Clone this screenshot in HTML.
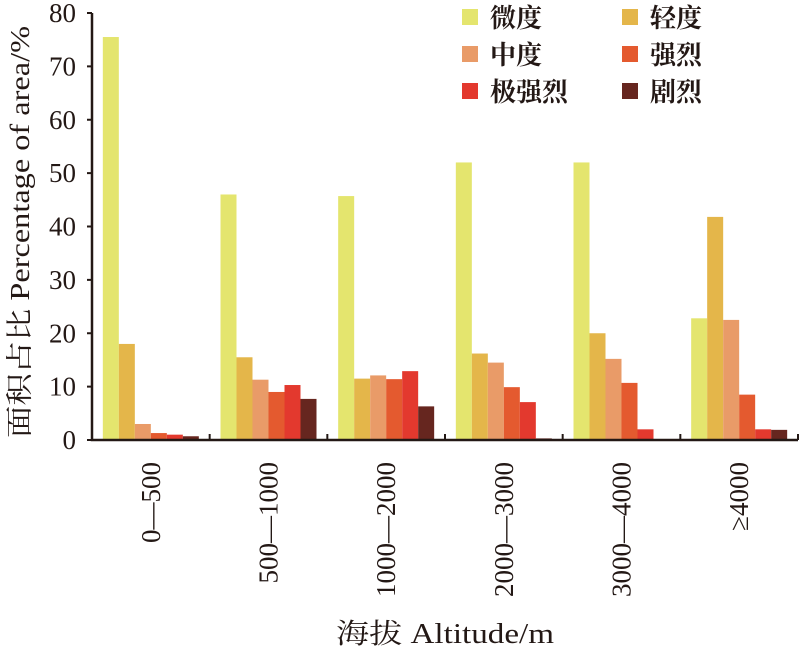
<!DOCTYPE html>
<html><head><meta charset="utf-8"><style>
body{margin:0;background:#fff;}
svg text{font-family:"Liberation Serif","Noto Serif CJK SC",serif;fill:#231815;}
</style></head><body>
<svg width="800" height="651" viewBox="0 0 800 651" xmlns="http://www.w3.org/2000/svg">
<g id="plot"></g>
<text transform="translate(29,232) rotate(-90)" text-anchor="middle" font-size="27" textLength="412" lengthAdjust="spacingAndGlyphs">面积占比 Percentage of area/%</text>
<text x="445" y="643" text-anchor="middle" font-size="28" textLength="218" lengthAdjust="spacingAndGlyphs">海拔 Altitude/m</text>
<script>
const categories=["0—500","500—1000","1000—2000","2000—3000","3000—4000","≥4000"];
const seriesNames=["微度","轻度","中度","强烈","极强烈","剧烈"];
const s1=[75.5,46,45.7,52,52,22.8];
const s2=[18,15.5,11.5,16.2,20,41.8];
const s3=[3,11.3,12.1,14.5,15.2,22.5];
const s4=[1.3,9,11.4,9.9,10.7,8.5];
const s5=[1,10.3,12.9,7.1,2,2];
const s6=[0.7,7.7,6.3,0.3,0,1.9];
const yTicks=[0,10,20,30,40,50,60,70,80];
const series=[s1,s2,s3,s4,s5,s6];
const colors=["#e4e56e","#e4b64a","#e99b68","#e45a2f","#e3392e","#66261f"];
const NS="http://www.w3.org/2000/svg";
const g=document.getElementById('plot');
const x0=92,x1=798,yb=440,yt=13;
const groupW=(x1-x0)/categories.length;
const barW=16;
function y(v){return yb-(v/80)*(yb-yt);}
function gx(i){return x0+i*groupW;}
function mk(t,a){const e=document.createElementNS(NS,t);for(const k in a)e.setAttribute(k,a[k]);g.appendChild(e);return e;}
series.forEach((s,si)=>{s.forEach((v,ci)=>{
 const r=mk('rect',{x:gx(ci)+(groupW-6*barW)/2+si*barW,y:y(v),width:barW,height:yb-y(v),fill:colors[si]});
 
 
});});
const ax=mk('path',{d:`M${x0},${yt} V${yb} H${x1}`,stroke:'#231815','stroke-width':2.5,fill:'none'});


yTicks.forEach(t=>{
 const l=mk('line',{x1:x0-5,x2:x0,y1:y(t),y2:y(t),stroke:'#231815','stroke-width':2});
 
 
 const tx=mk('text',{x:76,y:y(t)+9,'text-anchor':'end','font-size':27});
 tx.textContent=t;
 
 
});
categories.forEach((c,i)=>{
 const l=mk('line',{x1:gx(i+1),x2:gx(i+1),y1:yb-6,y2:yb,stroke:'#231815','stroke-width':2});
 
 
 const cx=gx(i)+groupW/2;
 const tx=mk('text',{transform:`translate(${cx+9},462) rotate(-90)`,'text-anchor':'end','font-size':27});
 tx.textContent=c;
 
 
});
seriesNames.forEach((n,i)=>{
 const col=i%2,row=Math.floor(i/2);
 const lx=462+col*160,ly=17+row*37;
 const r=mk('rect',{x:lx,y:ly-8,width:16,height:16,fill:colors[i]});
 
 
 const tx=mk('text',{x:lx+28,y:ly+10,'font-size':26,'font-weight':'bold','font-family':'"Noto Sans CJK SC",sans-serif'});
 tx.textContent=n;
 
 
});
</script>
</svg>
</body></html>
